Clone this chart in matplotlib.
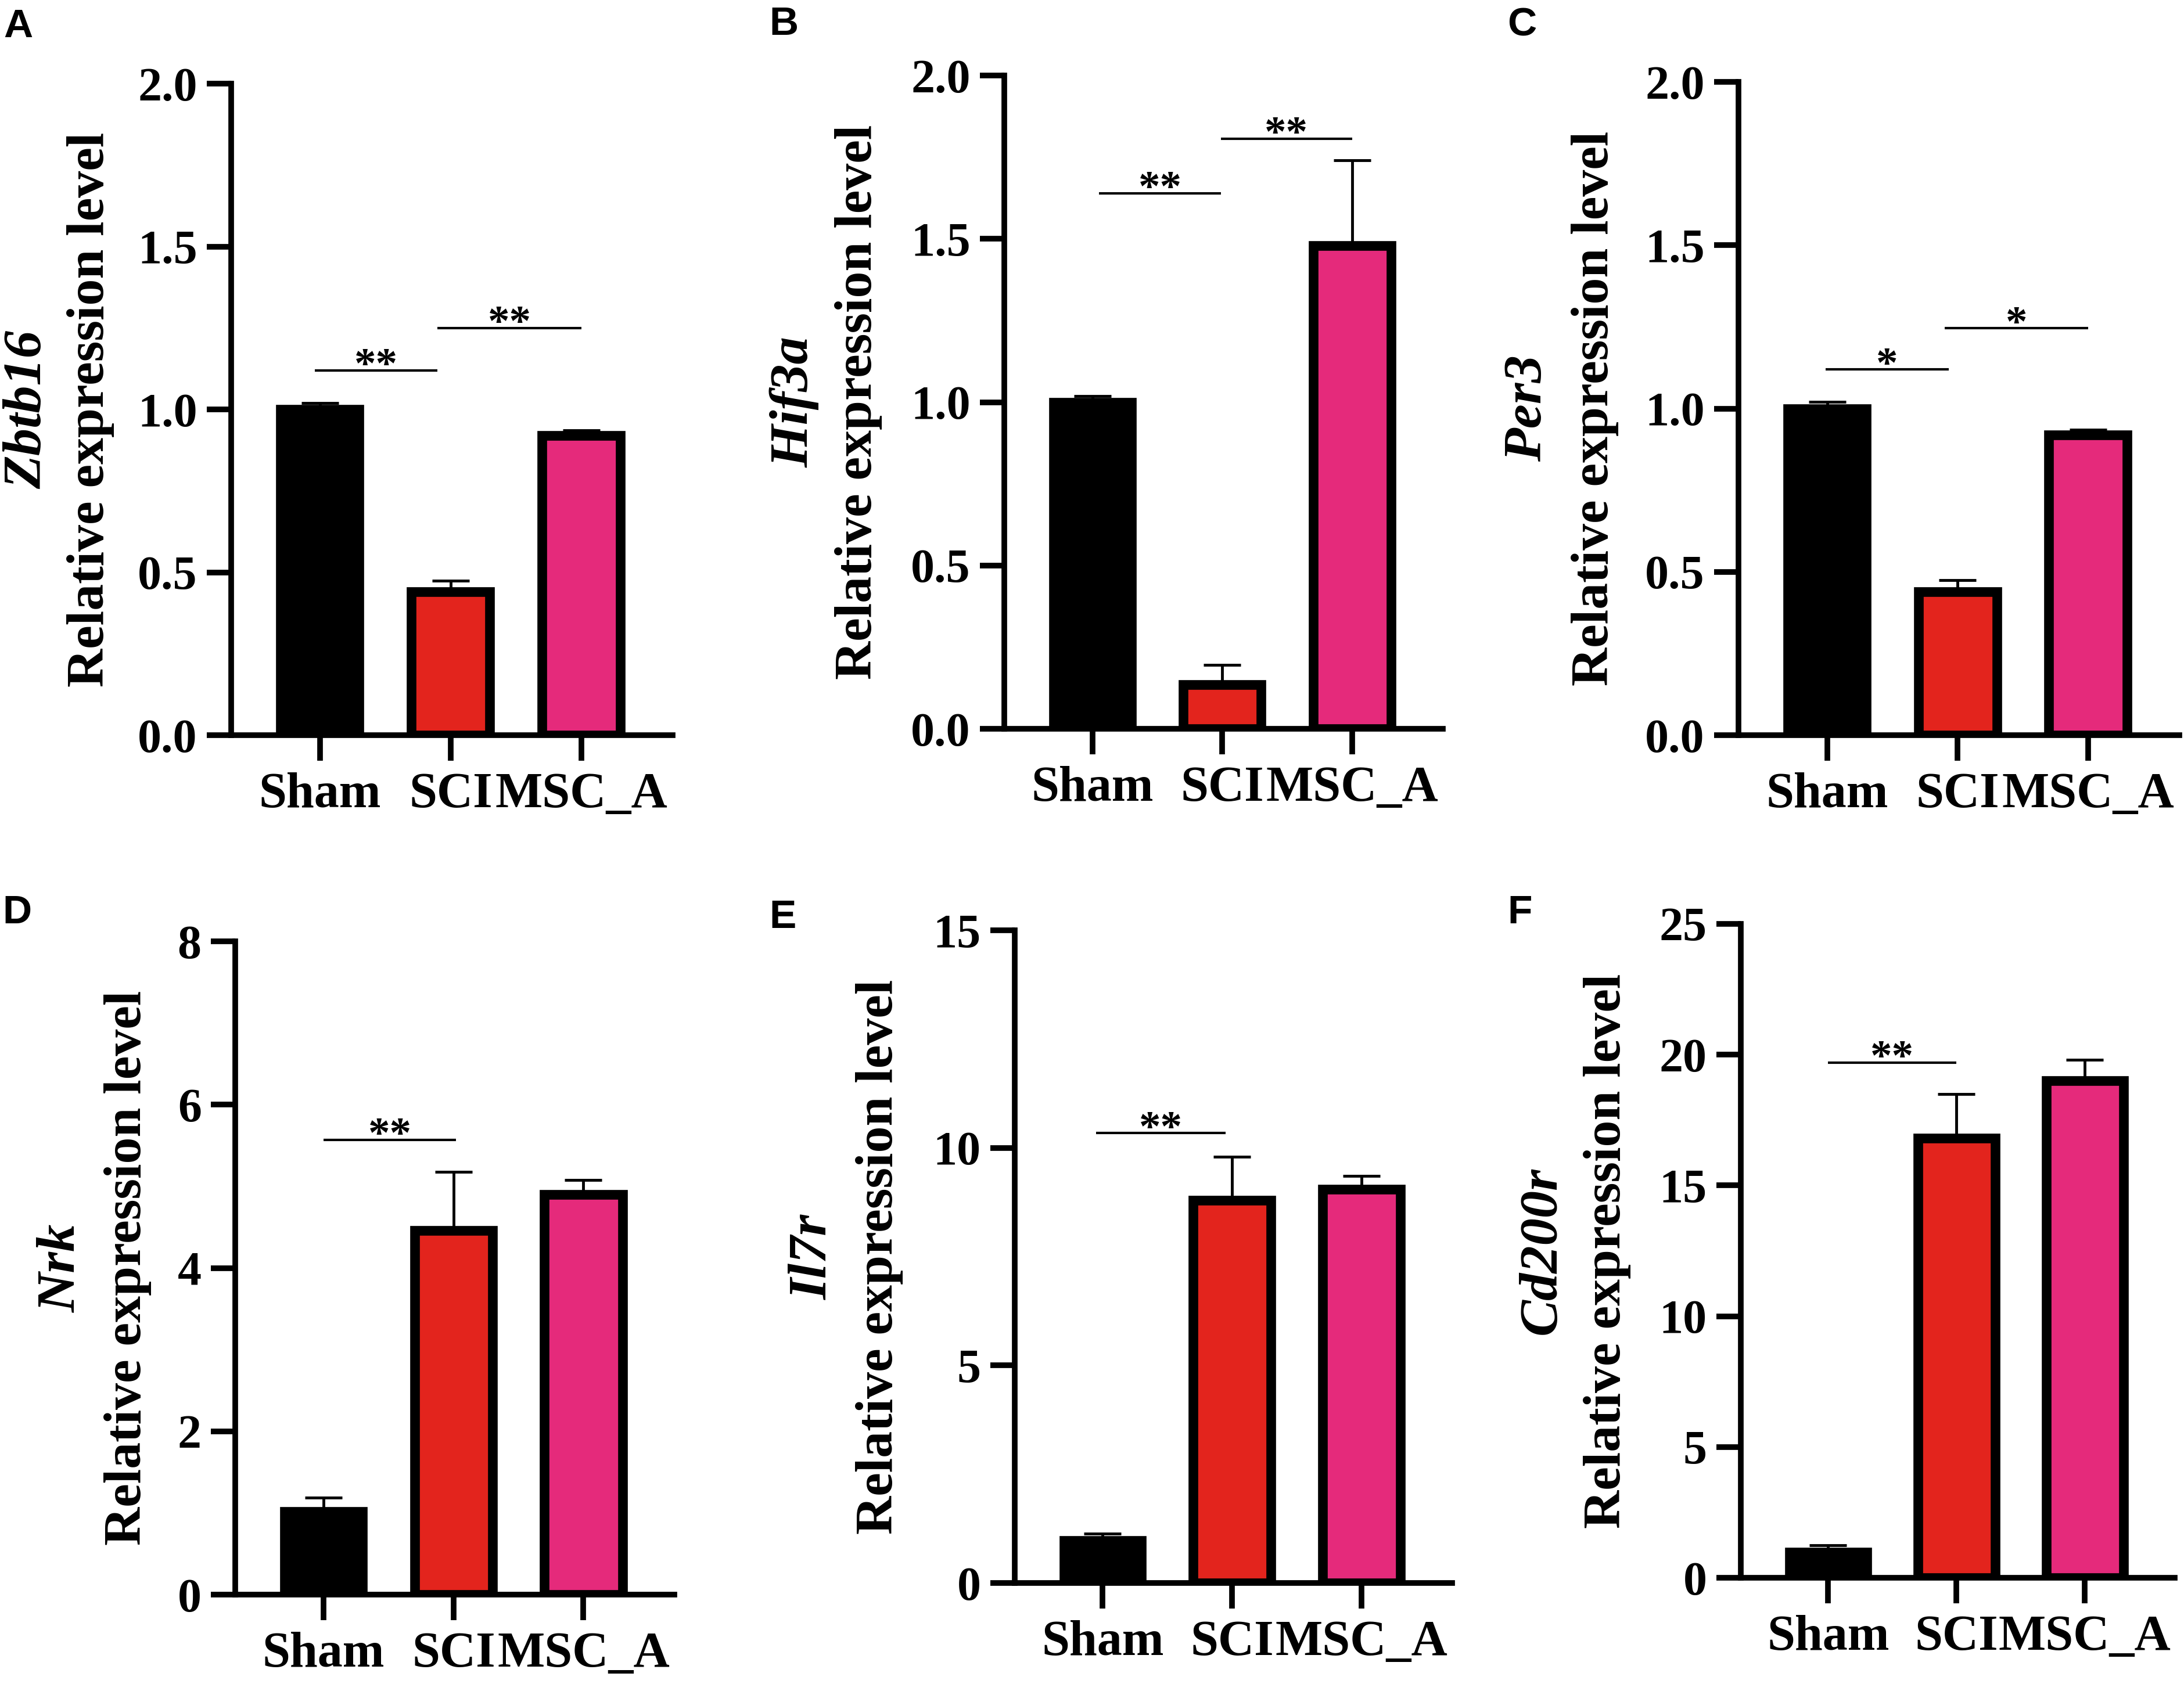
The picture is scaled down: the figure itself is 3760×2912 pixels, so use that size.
import matplotlib
matplotlib.use("Agg")
import matplotlib.pyplot as plt
from matplotlib.ticker import FormatStrFormatter

plt.rcParams['font.family'] = ['Liberation Serif', 'DejaVu Serif']
plt.rcParams['font.weight'] = 'bold'

# groups and colours
groups = ["Sham", "SCI", "MSC_A"]
bar_colors = ["#000000", "#E3241D", "#E52A7B"]

# data (mean, upper SEM)
genes = ["Zbtb16", "Hif3a", "Per3", "Nrk", "Il7r", "Cd200r"]
letters = ["A", "B", "C", "D", "E", "F"]

zbtb16_mean = [1.00, 0.44, 0.92]
zbtb16_err = [0.02, 0.035, 0.015]
hif3a_mean = [1.00, 0.135, 1.48]
hif3a_err = [0.018, 0.06, 0.26]
per3_mean = [1.00, 0.44, 0.92]
per3_err = [0.02, 0.035, 0.015]
nrk_mean = [1.02, 4.46, 4.90]
nrk_err = [0.17, 0.72, 0.18]
il7r_mean = [0.98, 8.80, 9.05]
il7r_err = [0.15, 1.00, 0.30]
cd200r_mean = [0.98, 16.8, 19.0]
cd200r_err = [0.26, 1.7, 0.8]

means = [zbtb16_mean, hif3a_mean, per3_mean, nrk_mean, il7r_mean, cd200r_mean]
errs = [zbtb16_err, hif3a_err, per3_err, nrk_err, il7r_err, cd200r_err]

y_max = [2.0, 2.0, 2.0, 8, 15, 25]
y_step = [0.5, 0.5, 0.5, 2, 5, 5]

# significance brackets: (x start, x end, y, label)
sig_marks = [
    [(-0.04, 0.90, 1.12, "**"), (0.90, 2.0, 1.25, "**")],
    [(0.05, 0.99, 1.64, "**"), (0.99, 2.0, 1.807, "**")],
    [(-0.01, 0.93, 1.12, "*"), (0.90, 2.0, 1.246, "*")],
    [(0.0, 1.02, 5.57, "**")],
    [(-0.05, 0.95, 10.34, "**")],
    [(0.0, 1.0, 19.7, "**")],
]

# layout in pixels: left spine, right end, top, bottom
W, H = 3760, 2912
boxes = [
    (398, 1158, 144, 1266),
    (1729, 2484, 130, 1255),
    (2993, 3752, 141, 1266),
    (405, 1161, 1621, 2746),
    (1747, 2500, 1602, 2726),
    (2997, 3744, 1591, 2717),
]
gene_x = [48, 1368, 2631, 106, 1400, 2655]
label_x = [156, 1478, 2746, 220, 1514, 2767]
letter_pos = [(6, 14), (1324, 10), (2595, 12), (4, 1540), (1324, 1548), (2595, 1540)]

fig = plt.figure(figsize=(W / 100, H / 100), dpi=100)

for i in range(6):
    l, r, t, b = boxes[i]
    ax = fig.add_axes([l / W, 1 - b / H, (r - l) / W, (b - t) / H])
    x = range(3)
    ax.errorbar(x, means[i], yerr=[[0, 0, 0], errs[i]], fmt='none', ecolor='black',
                elinewidth=3.5, capsize=23, capthick=3.5, zorder=1)
    ax.bar(x, means[i], width=0.6, color=bar_colors, edgecolor='black',
           linewidth=12, zorder=2)

    ax.set_xlim(-0.68, 2.70)
    ax.set_ylim(0, y_max[i])
    ticks = [k * y_step[i] for k in range(int(round(y_max[i] / y_step[i])) + 1)]
    ax.set_yticks(ticks)
    if y_step[i] < 1:
        ax.yaxis.set_major_formatter(FormatStrFormatter('%.1f'))
    else:
        ax.yaxis.set_major_formatter(FormatStrFormatter('%d'))
    ax.set_xticks(list(x), groups)

    for side in ['top', 'right']:
        ax.spines[side].set_visible(False)
    for side in ['left', 'bottom']:
        ax.spines[side].set_linewidth(7)
        ax.spines[side].set_capstyle('projecting')
        ax.spines[side].set_zorder(3)
    ax.tick_params(axis='y', length=30, width=7, pad=12, labelsize=59)
    ax.tick_params(axis='x', length=32, width=7, pad=14, labelsize=62)

    for x0, x1, yy, txt in sig_marks[i]:
        ax.plot([x0, x1], [yy, yy], color='black', lw=3, solid_capstyle='butt')
        ax.annotate(txt, xy=((x0 + x1) / 2, yy), xytext=(0, -9), textcoords='offset points',
                    ha='center', va='baseline', fontsize=54, fontweight='bold')

    ymid = 1 - (t + b) / 2 / H
    fig.text(gene_x[i] / W, ymid, genes[i], rotation=90, ha='center', va='center',
             fontsize=68, fontstyle='italic', fontweight='bold')
    fig.text(label_x[i] / W, ymid, "Relative expression level", rotation=90,
             ha='center', va='center', fontsize=66, fontweight='bold')
    lx, ly = letter_pos[i]
    fig.text(lx / W, 1 - ly / H, letters[i], ha='left', va='top', fontsize=50,
             fontweight='bold', family=['Liberation Sans', 'DejaVu Sans'])

fig.savefig("out.png", dpi=100)
